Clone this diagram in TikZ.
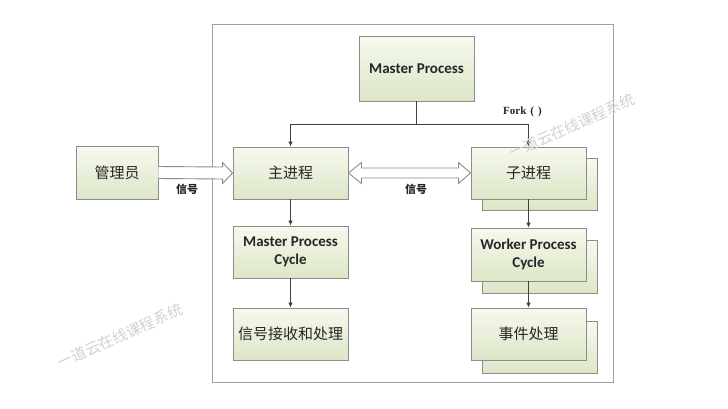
\documentclass[tikz,border=0pt]{standalone}
\usepackage{fontspec}
\setmainfont{Carlito}
\newfontfamily\cjk{Noto Sans CJK SC}
\newfontfamily\forkfont{Liberation Serif}
\usetikzlibrary{arrows.meta,calc}
\definecolor{boxtop}{HTML}{F6F9EF}
\definecolor{boxbot}{HTML}{DCE6C7}
\definecolor{boxline}{HTML}{8C8C8C}
\definecolor{frameline}{HTML}{A0A0A0}
\definecolor{wm}{HTML}{D2D2D2}
\tikzset{
  gbox/.style={draw=boxline, line width=0.9pt, top color=boxtop, bottom color=boxbot,
    minimum width=115pt, minimum height=52pt, inner sep=2pt, align=center, text=black!85},
  entext/.style={font=\bfseries\fontsize{15}{18}\selectfont},
  zhtext/.style={font=\cjk\fontsize{15}{18}\selectfont},
  conn/.style={draw=black!75, line width=0.8pt},
  tipped/.style={conn, -{Latex[length=5pt,width=4.5pt]}},
  blockarrow/.style={draw=boxline, line width=0.9pt, fill=white},
  smalllabel/.style={font=\cjk\bfseries\fontsize{11}{13}\selectfont, text=black!85},
  wmark/.style={font=\cjk\fontsize{15}{17}\selectfont, text=wm, rotate=24}
}
\begin{document}
\begin{tikzpicture}[x=1pt,y=-1pt]
\useasboundingbox (0,0) rectangle (728,408);
\fill[white] (0,0) rectangle (728,408);
% frame
\draw[frameline, line width=0.9pt] (212,24) rectangle (613,382);
% shadow boxes
\node[gbox] (childsh) at (539.5,184) {};
\node[gbox, minimum height=53pt] (wpcsh) at (539.5,266.5) {};
\node[gbox] (evtsh) at (539.5,347.5) {};
% main boxes
\node[gbox, minimum height=65pt, entext] (master) at (416.5,68.5) {Master Process};
\node[gbox, zhtext] (main) at (290.5,173) {主进程};
\node[gbox, zhtext] (child) at (528.5,173) {子进程};
\node[gbox, minimum width=82pt, minimum height=53pt, zhtext] (admin) at (117,172.5) {管理员};
\node[gbox, entext] (mpc) at (290.5,252) {Master Process\\Cycle};
\node[gbox, zhtext] (sig) at (290.5,334) {信号接收和处理};
\node[gbox, minimum height=53pt, entext] (wpc) at (528.5,254.5) {Worker Process\\Cycle};
\node[gbox, zhtext] (evt) at (528.5,334) {事件处理};
% fork connectors
\draw[conn] (master.south) -- ++(0,22.5) coordinate (fj);
\draw[tipped] (fj) -| (main.north);
\draw[tipped] (fj) -| (child.north);
\node[font=\forkfont\bfseries\fontsize{11}{12}\selectfont, text=black!85, inner sep=0pt] (forklbl) at (522.5,112) {Fork\hspace{4pt}(\hspace{4pt})};
% vertical connectors
\draw[tipped] (main.south) -- (mpc.north);
\draw[tipped] (mpc.south) -- (sig.north);
\draw[tipped] (child.south) -- (wpc.north);
\draw[tipped] (wpc.south) -- (evt.north);
% single block arrow admin -> main
\draw[blockarrow]
  ($(admin.east)+(0,-6)$) -- ($(main.west)+(-10,-6)$) -- ($(main.west)+(-10,-10.5)$)
  -- (main.west) -- ($(main.west)+(-10,10.5)$) -- ($(main.west)+(-10,6)$)
  -- ($(admin.east)+(0,6)$);
\node[smalllabel] (siglbl1) at (187,189.5) {信号};
% double block arrow main <-> child
\draw[blockarrow]
  (main.east) -- ($(main.east)+(13,-10.5)$) -- ($(main.east)+(13,-5)$)
  -- ($(child.west)+(-12,-5)$) -- ($(child.west)+(-12,-10.5)$) -- (child.west)
  -- ($(child.west)+(-12,10.5)$) -- ($(child.west)+(-12,5)$)
  -- ($(main.east)+(13,5)$) -- ($(main.east)+(13,10.5)$) -- cycle;
\node[smalllabel] (siglbl2) at (416,189) {信号};
% watermarks
\node[wmark] (wm1) at (120,336) {一道云在线课程系统};
\node[wmark] (wm2) at (572,126) {一道云在线课程系统};
\end{tikzpicture}
\end{document}
